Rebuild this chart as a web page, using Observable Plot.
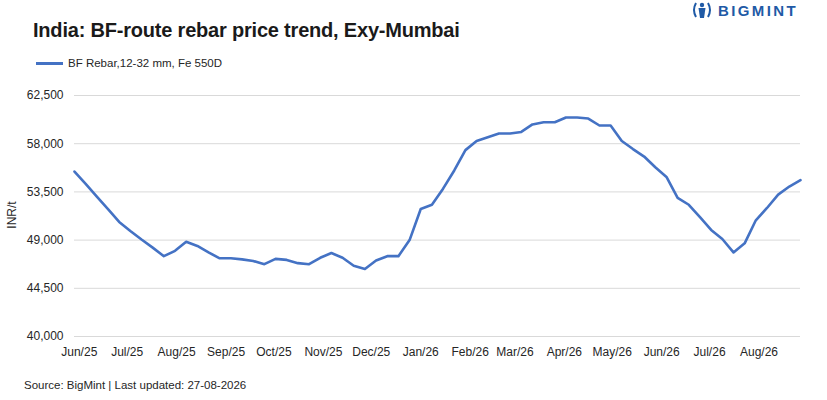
<!DOCTYPE html>
<html>
<head>
<meta charset="utf-8">
<script src="https://cdn.jsdelivr.net/npm/d3@7"></script>
<script src="https://cdn.jsdelivr.net/npm/@observablehq/plot@0.6"></script>
<style>
  html, body { margin: 0; padding: 0; background: #ffffff; }
  body { width: 827px; height: 400px; position: relative; overflow: hidden; font-family: "Liberation Sans", Arial, sans-serif; color: #262626; }
  .abs { position: absolute; white-space: nowrap; }
  #title { left: 33px; top: 18px; font-size: 20px; font-weight: bold; letter-spacing: -0.2px; color: #1a1a1a; line-height: 24px; }
  #legend { left: 36px; top: 55px; font-size: 11.5px; line-height: 16px; display: flex; align-items: center; }
  #legend .sw { display: inline-block; width: 27px; height: 3px; background: #4472c4; margin-right: 5px; }
  #source { left: 24px; top: 377px; font-size: 11.5px; line-height: 16px; }
  #ylab { left: 12px; top: 215px; font-size: 12px; transform: translate(-50%, -50%) rotate(-90deg); }
  #chart { left: 0; top: 80px; }
  #logo { left: 691px; top: 1px; display: flex; align-items: center; color: #1f5aa6; font-weight: bold; font-size: 15px; letter-spacing: 2.4px; }
</style>
</head>
<body>
<div id="title" class="abs">India: BF-route rebar price trend, Exy-Mumbai</div>
<div id="logo" class="abs">
  <svg width="22" height="18" viewBox="0 0 22 18">
    <path d="M5 2 Q1 9 5 16" fill="none" stroke="#1f5aa6" stroke-width="2"/>
    <path d="M17 2 Q21 9 17 16" fill="none" stroke="#1f5aa6" stroke-width="2"/>
    <circle cx="11" cy="4" r="2.2" fill="#1f5aa6"/>
    <path d="M7.5 7 L14.5 7 L13 17 L9 17 Z" fill="#1f5aa6"/>
  </svg>
  <span style="margin-left:5px">BIGMINT</span>
</div>
<div id="legend" class="abs"><span class="sw"></span><span>BF Rebar,12-32 mm, Fe 550D</span></div>
<div id="ylab" class="abs">INR/t</div>
<div id="chart" class="abs"></div>
<div id="source" class="abs">Source: BigMint | Last updated: 27-08-2026</div>
<script>
const dates = [
  "2025-05-29","2025-06-05","2025-06-12","2025-06-19","2025-06-26",
  "2025-07-03","2025-07-10","2025-07-17","2025-07-24","2025-07-31",
  "2025-08-07","2025-08-14","2025-08-21","2025-08-28",
  "2025-09-04","2025-09-11","2025-09-18","2025-09-25",
  "2025-10-02","2025-10-09","2025-10-16","2025-10-23","2025-10-30",
  "2025-11-06","2025-11-13","2025-11-20","2025-11-27",
  "2025-12-04","2025-12-11","2025-12-18","2025-12-25",
  "2026-01-01","2026-01-08","2026-01-15","2026-01-22","2026-01-29",
  "2026-02-05","2026-02-12","2026-02-19","2026-02-26",
  "2026-03-05","2026-03-12","2026-03-19","2026-03-26",
  "2026-04-02","2026-04-09","2026-04-16","2026-04-23","2026-04-30",
  "2026-05-07","2026-05-14","2026-05-21","2026-05-28",
  "2026-06-04","2026-06-11","2026-06-18","2026-06-25",
  "2026-07-02","2026-07-09","2026-07-16","2026-07-23","2026-07-30",
  "2026-08-06","2026-08-13","2026-08-20","2026-08-27"
];
const prices = [
  55400, 54250, 53050, 51900, 50700,
  49850, 49050, 48300, 47500, 48000,
  48850, 48450, 47850, 47300,
  47300, 47200, 47050, 46750,
  47250, 47150, 46850, 46750, 47350,
  47800, 47350, 46600, 46300,
  47100, 47500, 47500, 49000,
  51900, 52300, 53800, 55500, 57400,
  58250, 58600, 58950, 58950,
  59100, 59800, 60000, 60000,
  60450, 60450, 60350, 59700, 59700,
  58250, 57500, 56800, 55800,
  54900, 52950, 52300, 51150,
  49950, 49100, 47850, 48700, 50850,
  52000, 53250, 54000, 54600
];
const seriesName = "BF Rebar,12-32 mm, Fe 550D";
const xTickDates = [
  "2025-06-01","2025-07-01","2025-08-01","2025-09-01","2025-10-01","2025-11-01","2025-12-01",
  "2026-01-01","2026-02-01","2026-03-01","2026-04-01","2026-05-01","2026-06-01","2026-07-01","2026-08-01"
];
const xTickLabels = ["Jun/25","Jul/25","Aug/25","Sep/25","Oct/25","Nov/25","Dec/25","Jan/26","Feb/26","Mar/26","Apr/26","May/26","Jun/26","Jul/26","Aug/26"];
const yTicks = [40000, 44500, 49000, 53500, 58000, 62500];

const data = dates.map((d, i) => ({date: new Date(d + "T00:00:00Z"), value: prices[i], series: seriesName}));
const tickDates = xTickDates.map(d => new Date(d + "T00:00:00Z"));
const labelFor = new Map(tickDates.map((d, i) => [+d, xTickLabels[i]]));

const chart = Plot.plot({
  width: 827,
  height: 290,
  marginTop: 15,
  marginBottom: 34,
  marginLeft: 74,
  marginRight: 27,
  style: {fontFamily: "Liberation Sans, Arial, sans-serif", fontSize: "12px", color: "#262626", background: "transparent"},
  x: {type: "utc", domain: [data[0].date, data[data.length - 1].date]},
  y: {domain: [40000, 62500]},
  marks: [
    Plot.ruleY(yTicks, {stroke: "#d9d9d9", strokeWidth: 1}),
    Plot.lineY(data, {x: "date", y: "value", stroke: "#4472c4", strokeWidth: 2.6, strokeLinejoin: "round"}),
    Plot.axisX({ticks: tickDates, tickFormat: d => labelFor.get(+d), tickSize: 0, tickPadding: 11, label: null, fontSize: 12}),
    Plot.axisY({ticks: yTicks, tickFormat: d3.format(","), tickSize: 0, tickPadding: 11, label: null, fontSize: 12})
  ]
});
document.getElementById("chart").appendChild(chart);
</script>
</body>
</html>
